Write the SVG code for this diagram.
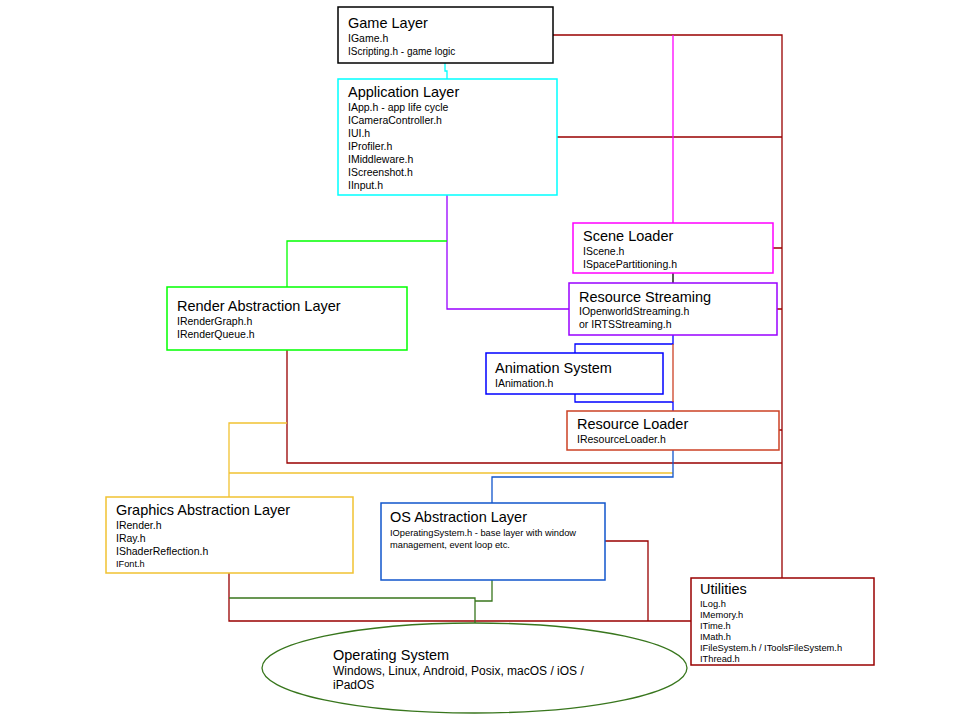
<svg xmlns="http://www.w3.org/2000/svg" width="960" height="720" viewBox="0 0 960 720">
<style>
text{font-family:"Liberation Sans",Arial,sans-serif;fill:#000}
.t{font-size:14.5px}
.s{font-size:10.5px}
.xs{font-size:10px}
.u{font-size:9.3px}
.box{fill:#fff;stroke-width:1.5}
.ln{fill:none;stroke-width:1.3}
</style>
<rect width="960" height="720" fill="#fff"/>
<g id="connectors">
<path class="ln" stroke="#990000" d="M553,35H782V578M557,137H782M773,248H782M777,309H782M779,430H782"/>
<path class="ln" stroke="#990000" d="M287,350V463H782"/>
<path class="ln" stroke="#990000" d="M605,541H648V621M229,573V621H691"/>
<path class="ln" stroke="#00ffff" d="M445,63V71H447V79"/>
<path class="ln" stroke="#ff00ff" d="M673,35V223"/>
<path class="ln" stroke="#000" d="M673,273V283"/>
<path class="ln" stroke="#9900ff" d="M447,195V309H569"/>
<path class="ln" stroke="#00ff00" d="M447,241H287V287"/>
<path class="ln" stroke="#0000ff" d="M673,335V344H575V353M575,394V402H673V411"/>
<path class="ln" stroke="#cc4125" d="M673,344V402"/>
<path class="ln" stroke="#f1c232" d="M287,423H229V497M229,473H673"/>
<path class="ln" stroke="#1155cc" d="M673,450V477H492V503"/>
<path class="ln" stroke="#38761d" d="M229,598H475V623M492,580V601H475"/>
</g>
<g id="game-layer">
<rect class="box" x="338" y="7" width="215" height="56" stroke="#000"/>
<text class="t" x="348" y="28">Game Layer</text>
<text class="s" x="348" y="42">IGame.h</text>
<text class="xs" x="348" y="55">IScripting.h - game logic</text>
</g>
<g id="application-layer">
<rect class="box" x="338" y="79" width="219" height="116" stroke="#00ffff"/>
<text class="t" x="348" y="97">Application Layer</text>
<text class="s" x="348" y="111">IApp.h - app life cycle</text>
<text class="s" x="348" y="124">ICameraController.h</text>
<text class="s" x="348" y="137">IUI.h</text>
<text class="s" x="348" y="150">IProfiler.h</text>
<text class="s" x="348" y="163">IMiddleware.h</text>
<text class="s" x="348" y="176">IScreenshot.h</text>
<text class="s" x="348" y="189">IInput.h</text>
</g>
<g id="scene-loader">
<rect class="box" x="573" y="223" width="200" height="50" stroke="#ff00ff"/>
<text class="t" x="583" y="241">Scene Loader</text>
<text class="s" x="583" y="255">IScene.h</text>
<text class="s" x="583" y="268">ISpacePartitioning.h</text>
</g>
<g id="resource-streaming">
<rect class="box" x="569" y="283" width="208" height="52" stroke="#9900ff"/>
<text class="t" x="579" y="302">Resource Streaming</text>
<text class="s" x="579" y="315">IOpenworldStreaming.h</text>
<text class="s" x="579" y="328">or IRTSStreaming.h</text>
</g>
<g id="render-abstraction-layer">
<rect class="box" x="167" y="287" width="240" height="63" stroke="#00ff00"/>
<text class="t" x="177" y="311">Render Abstraction Layer</text>
<text class="s" x="177" y="325">IRenderGraph.h</text>
<text class="s" x="177" y="338">IRenderQueue.h</text>
</g>
<g id="animation-system">
<rect class="box" x="486" y="353" width="177" height="41" stroke="#0000ff"/>
<text class="t" x="495" y="373">Animation System</text>
<text class="s" x="495" y="387">IAnimation.h</text>
</g>
<g id="resource-loader">
<rect class="box" x="567" y="411" width="212" height="39" stroke="#cc4125"/>
<text class="t" x="577" y="429">Resource Loader</text>
<text class="s" x="577" y="443">IResourceLoader.h</text>
</g>
<g id="graphics-abstraction-layer">
<rect class="box" x="106" y="497" width="247" height="76" stroke="#f1c232"/>
<text class="t" x="116" y="515">Graphics Abstraction Layer</text>
<text class="s" x="116" y="529">IRender.h</text>
<text class="s" x="116" y="542">IRay.h</text>
<text class="s" x="116" y="555">IShaderReflection.h</text>
<text style="font-size:9.2px" x="116" y="567">IFont.h</text>
</g>
<g id="os-abstraction-layer">
<rect class="box" x="381" y="503" width="224" height="77" stroke="#1155cc"/>
<text class="t" x="390" y="522">OS Abstraction Layer</text>
<text style="font-size:9.3px" x="390" y="536">IOperatingSystem.h - base layer with window</text>
<text style="font-size:9.3px" x="390" y="548">management, event loop etc.</text>
</g>
<g id="utilities">
<rect class="box" x="691" y="578" width="183" height="87" stroke="#990000"/>
<text class="t" x="700" y="594">Utilities</text>
<text class="u" x="700" y="607">ILog.h</text>
<text class="u" x="700" y="618">IMemory.h</text>
<text class="u" x="700" y="629">ITime.h</text>
<text class="u" x="700" y="640">IMath.h</text>
<text class="u" x="700" y="651">IFileSystem.h / IToolsFileSystem.h</text>
<text class="u" x="700" y="662">IThread.h</text>
</g>
<g id="operating-system">
<ellipse cx="474.5" cy="668" rx="212.5" ry="45" fill="#fff" stroke="#38761d" stroke-width="1.3"/>
<text class="t" x="333" y="660">Operating System</text>
<text style="font-size:12px" x="333" y="675">Windows, Linux, Android, Posix, macOS / iOS /</text>
<text style="font-size:12px" x="333" y="689">iPadOS</text>
</g>
</svg>
